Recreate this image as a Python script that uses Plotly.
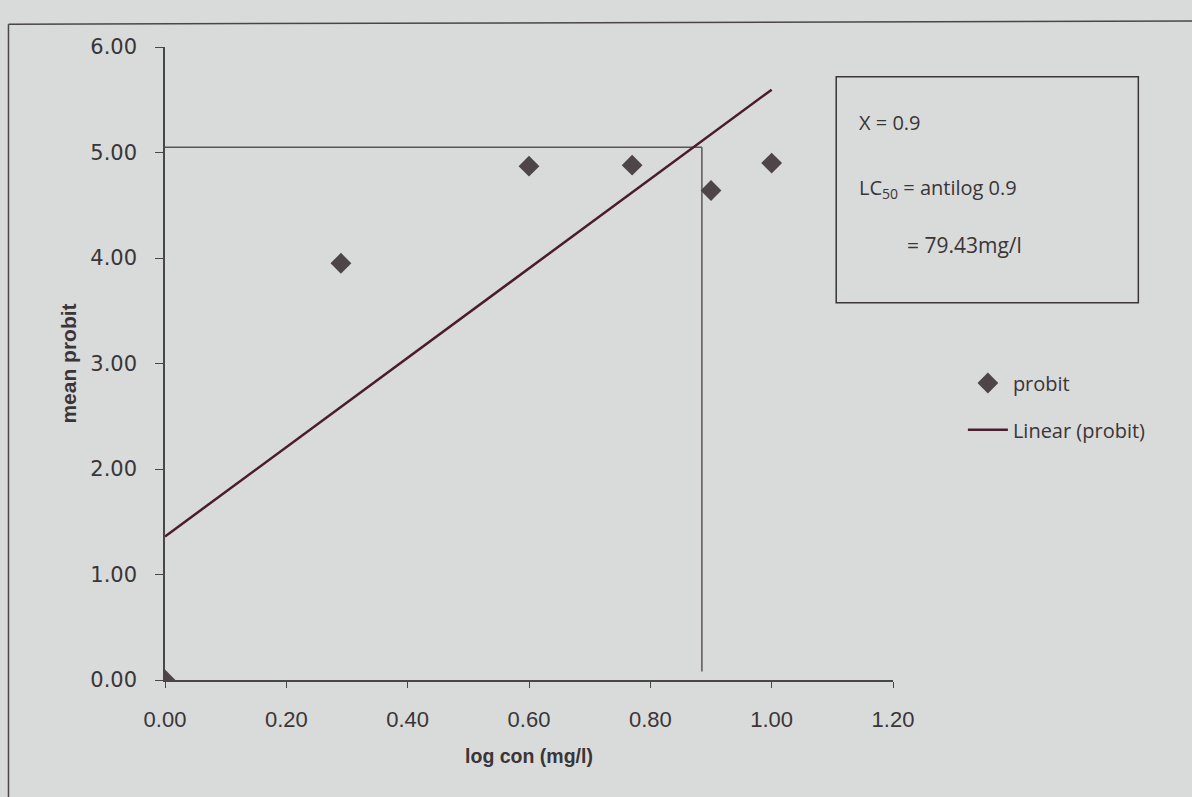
import numpy as np
import plotly.graph_objects as go

# data
log_con = [0.00, 0.29, 0.60, 0.77, 0.90, 1.00]
mean_probit = [0.00, 3.95, 4.87, 4.88, 4.64, 4.90]
x_ticks = [0.0, 0.2, 0.4, 0.6, 0.8, 1.0, 1.2]
y_ticks = [0, 1, 2, 3, 4, 5, 6]
lc50_x = 0.885
probit_50 = 5.05

slope, intercept = np.polyfit(log_con, mean_probit, 1)
fit_x = [0.0, 1.0]
fit_y = [intercept + slope * v for v in fit_x]

BG = "#d9dbdb"
AX = "#4a4648"
TXT = "#3a3537"
fig = go.Figure()

fig.add_trace(go.Scatter(x=[0, lc50_x], y=[probit_50, probit_50], mode="lines",
                         line=dict(color="#5a5557", width=1.5), showlegend=False, hoverinfo="skip"))
fig.add_trace(go.Scatter(x=[lc50_x, lc50_x], y=[0.08, probit_50], mode="lines",
                         line=dict(color="#5a5557", width=1.5), showlegend=False, hoverinfo="skip"))
fig.add_trace(go.Scatter(x=fit_x, y=fit_y, mode="lines", name="Linear (probit)",
                         line=dict(color="#4a1c2e", width=2.5), legend="legend2"))
fig.add_trace(go.Scatter(x=log_con, y=mean_probit, mode="markers", name="probit",
                         marker=dict(symbol="diamond", size=16, color="#4d4547"), legend="legend"))

fig.update_layout(
    width=1192, height=797,
    margin=dict(l=165, r=299, t=47, b=117),
    paper_bgcolor=BG, plot_bgcolor=BG,
    font=dict(family="Liberation Sans", color=TXT),
    xaxis=dict(range=[0, 1.2], tickvals=x_ticks, tickformat=".2f",
               showgrid=False, zeroline=False, showline=True, linecolor=AX, linewidth=1.5,
               ticks="outside", ticklen=6, tickcolor=AX, ticklabelstandoff=13,
               tickfont=dict(family="Liberation Sans", size=22, color=TXT),
               title=dict(text="<b>log con (mg/l)</b>", font=dict(size=19.5), standoff=18)),
    yaxis=dict(range=[0, 6], tickvals=y_ticks, tickformat=".2f",
               showgrid=False, zeroline=False, showline=True, linecolor=AX, linewidth=1.5,
               ticks="outside", ticklen=8, tickcolor=AX, ticklabelstandoff=14,
               tickfont=dict(family="DejaVu Sans", size=21, color=TXT),
               title=dict(text="<b>mean probit</b>", font=dict(size=21), standoff=8)),
    legend=dict(x=1.096, y=0.5, xanchor="left", yanchor="top", bgcolor="rgba(0,0,0,0)",
                font=dict(family="Open Sans", size=20, color=TXT), itemwidth=40),
    legend2=dict(x=1.096, y=0.426, xanchor="left", yanchor="top", bgcolor="rgba(0,0,0,0)",
                 font=dict(family="Open Sans", size=20, color=TXT), itemwidth=40),
    showlegend=True,
)

# LC50 box
fig.add_shape(type="rect", xref="paper", yref="paper", x0=0.922, x1=1.337, y0=0.596, y1=0.953,
              line=dict(color=TXT, width=1.5), fillcolor="rgba(0,0,0,0)")
box_font = dict(family="Open Sans", size=20, color=TXT)
fig.add_annotation(xref="paper", yref="paper", x=0.951, y=0.88, xanchor="left", yanchor="middle",
                   text="X = 0.9", showarrow=False, font=box_font)
fig.add_annotation(xref="paper", yref="paper", x=0.951, y=0.776, xanchor="left", yanchor="middle",
                   text="LC<sub>50</sub> = antilog 0.9", showarrow=False, font=box_font)
fig.add_annotation(xref="paper", yref="paper", x=1.017, y=0.687, xanchor="left", yanchor="middle",
                   text="= 79.43mg/l", showarrow=False, font=dict(family="Open Sans", size=21, color=TXT))

# page frame seen in the photo
fig.add_shape(type="line", xref="paper", yref="paper", x0=-0.215, x1=1.42, y0=1.036, y1=1.041,
              line=dict(color=AX, width=1.5))
fig.add_shape(type="line", xref="paper", yref="paper", x0=-0.215, x1=-0.215, y0=1.036, y1=-0.19,
              line=dict(color=AX, width=1.5))

fig.write_html("out.html", config={"displayModeBar": False},
               post_script="document.body.style.margin='0';document.body.style.background='#d9dbdb';")
